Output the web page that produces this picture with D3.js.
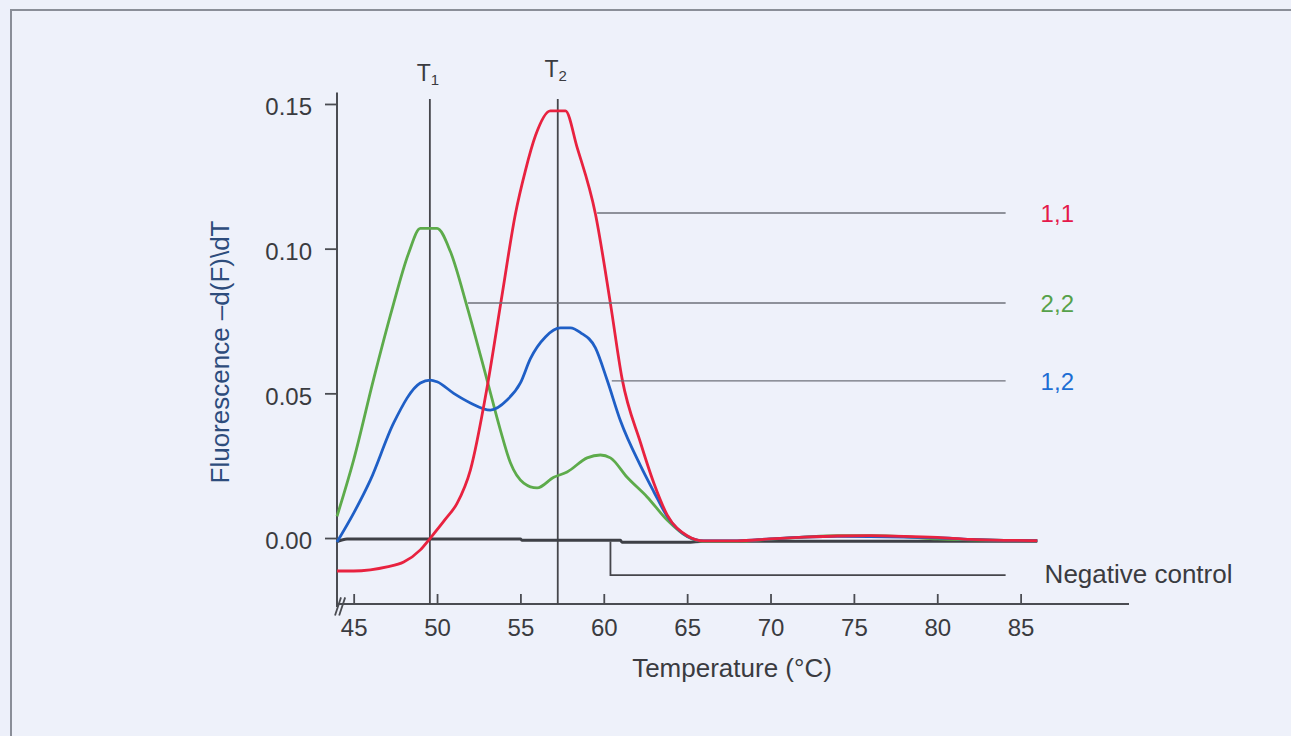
<!DOCTYPE html>
<html>
<head>
<meta charset="utf-8">
<script src="https://cdn.jsdelivr.net/npm/d3@7"></script>
<style>
  body { margin: 0; background: #edf0fa; }
  svg { display: block; font-family: "Liberation Sans", Arial, sans-serif; }
</style>
</head>
<body>
<div id="plot"></div>
<script>
// Melting curve data (temperature in °C, -d(F)/dT)
const redTemps = [44, 45, 46, 47, 48, 49, 49.6, 50.5, 51.2, 52, 53, 53.9, 54.7, 55.3, 55.9, 56.8, 57.7, 58.4, 59.5, 60.4, 61.1, 62.2, 63, 63.8, 65, 66, 68, 70, 72, 74, 76, 78, 80, 82, 84, 86];
const redValues = [-0.0114, -0.0114, -0.011, -0.010, -0.0083, -0.0041, 0, 0.0065, 0.012, 0.0235, 0.052, 0.084, 0.112, 0.127, 0.139, 0.1476, 0.1476, 0.135, 0.112, 0.081, 0.055, 0.033, 0.019, 0.008, 0.0008, -0.001, -0.001, -0.0003, 0.0003, 0.0007, 0.0008, 0.0006, 0.0002, -0.0005, -0.0008, -0.0009];

const greenTemps = [44, 45, 46.2, 47.3, 48.3, 49, 50, 50.8, 51.8, 53, 53.8, 54.4, 55.2, 56, 57, 57.8, 59, 59.8, 60.4, 61.4, 62.6, 63.8, 65, 66, 68, 70, 72, 74, 76, 78, 80, 82, 84, 86];
const greenValues = [0.0075, 0.027, 0.055, 0.079, 0.0985, 0.107, 0.107, 0.099, 0.080, 0.0546, 0.0373, 0.026, 0.019, 0.0173, 0.021, 0.0228, 0.0277, 0.0287, 0.0277, 0.021, 0.0142, 0.0062, 0.0005, -0.0012, -0.0012, -0.0004, 0.0003, 0.0008, 0.0008, 0.0005, -0.0003, -0.0006, -0.0008, -0.0009];

const blueTemps = [44, 45, 46, 47.4, 49, 49.6, 50, 51, 52, 53.2, 54.2, 55, 55.6, 56.5, 57.4, 58, 58.6, 59.5, 60.2, 61, 62.2, 63, 63.8, 65, 66, 68, 70, 72, 74, 76, 78, 80, 82, 84, 86];
const blueValues = [-0.0014, 0.0086, 0.020, 0.0398, 0.0536, 0.0546, 0.054, 0.050, 0.0467, 0.0442, 0.0477, 0.0536, 0.062, 0.0695, 0.0726, 0.0726, 0.071, 0.0657, 0.0546, 0.0405, 0.025, 0.016, 0.0075, 0.0006, -0.001, -0.001, -0.0003, 0.0003, 0.0006, 0.0005, 0.0003, 0.0001, -0.0005, -0.0008, -0.0009];

const negTemps = [44, 44.6, 55, 55.1, 61, 61.1, 65, 66, 86];
const negValues = [-0.0012, -0.0003, -0.0003, -0.0008, -0.0008, -0.0015, -0.0015, -0.0011, -0.0011];

const xTicks = [45, 50, 55, 60, 65, 70, 75, 80, 85];
const yTicks = [0, 0.05, 0.10, 0.15];

const meltTemps = [49.57, 57.24];
const meltNames = ["1", "2"];

const seriesNames = ["1,1", "2,2", "1,2"];
const seriesLevels = [0.1123, 0.0812, 0.0543];
const seriesStarts = [59.6, 51.85, 60.48];

// Chart setup
const width = 1291;
const height = 736;

const svg = d3.select("#plot")
  .append("svg")
  .attr("width", width)
  .attr("height", height);

// Frame around the figure
svg.append("rect")
  .attr("x", 11)
  .attr("y", 10)
  .attr("width", 1400)
  .attr("height", 900)
  .attr("fill", "#eef1fa")
  .attr("stroke", "#8a8e98")
  .attr("stroke-width", 2);

const x = d3.scaleLinear().domain([44, 91.5]).range([337, 1129]);
const y = d3.scaleLinear().domain([-0.0228, 0.154]).range([604, 92.4]);

const axisColor = "#4a4c52";
const textColor = "#3a3b40";

// Axes
const yAxis = d3.axisLeft(y)
  .tickValues(yTicks)
  .tickFormat(d3.format(".2f"))
  .tickSize(12)
  .tickPadding(13);

const gy = svg.append("g")
  .attr("transform", `translate(${x(44)},0)`)
  .call(yAxis);
gy.select(".domain").remove();
gy.selectAll(".tick line").attr("stroke", axisColor).attr("stroke-width", 1.8);
gy.selectAll(".tick text")
  .attr("dy", "0.45em")
  .style("font-size", "24px")
  .style("font-family", "Liberation Sans, Arial, sans-serif")
  .attr("fill", textColor);

const xAxis = d3.axisBottom(x)
  .tickValues(xTicks)
  .tickSize(-10)
  .tickPadding(15);

const gx = svg.append("g")
  .attr("transform", `translate(0,${y(-0.0228)})`)
  .call(xAxis);
gx.select(".domain").remove();
gx.selectAll(".tick line").attr("stroke", axisColor).attr("stroke-width", 1.8);
gx.selectAll(".tick text")
  .style("font-size", "24px")
  .style("font-family", "Liberation Sans, Arial, sans-serif")
  .attr("fill", textColor);

// Axis lines
svg.append("line")
  .attr("x1", x(44)).attr("x2", x(44))
  .attr("y1", y(0.154)).attr("y2", y(-0.0238))
  .attr("stroke", axisColor).attr("stroke-width", 2);
svg.append("line")
  .attr("x1", x(44)).attr("x2", x(91.5))
  .attr("y1", y(-0.0228)).attr("y2", y(-0.0228))
  .attr("stroke", axisColor).attr("stroke-width", 2);

// Axis break marks "//"
[44, 44.25].forEach(t => {
  svg.append("line")
    .attr("x1", x(t) - 2).attr("y1", y(-0.0268))
    .attr("x2", x(t) + 4).attr("y2", y(-0.0205))
    .attr("stroke", axisColor).attr("stroke-width", 1.8);
});

// Axis titles
svg.append("text")
  .attr("x", 732)
  .attr("y", 677)
  .attr("text-anchor", "middle")
  .style("font-size", "26px")
  .attr("fill", textColor)
  .text("Temperature (°C)");

svg.append("text")
  .attr("transform", "translate(229,352) rotate(-90)")
  .attr("text-anchor", "middle")
  .style("font-size", "26px")
  .attr("fill", "#2d4c7c")
  .text("Fluorescence –d(F)\\dT");

// Melting temperature lines T1, T2
meltTemps.forEach((t, i) => {
  svg.append("line")
    .attr("x1", x(t)).attr("x2", x(t))
    .attr("y1", y(0.1517)).attr("y2", y(-0.0228))
    .attr("stroke", "#45464b").attr("stroke-width", 1.8);
  const lbl = svg.append("text")
    .attr("x", x(t) - 2)
    .attr("y", i === 0 ? 81 : 77)
    .attr("text-anchor", "middle")
    .style("font-size", "23px")
    .attr("fill", textColor)
    .text("T");
  lbl.append("tspan")
    .attr("dy", 4)
    .style("font-size", "15px")
    .text(meltNames[i]);
});

// Curves
const line = d3.line()
  .x(d => x(d[0]))
  .y(d => y(d[1]))
  .curve(d3.curveMonotoneX);

const curves = [
  { temps: negTemps, values: negValues, color: "#3e4046", w: 3 },
  { temps: greenTemps, values: greenValues, color: "#5dab4b", w: 2.8 },
  { temps: blueTemps, values: blueValues, color: "#1f5fc6", w: 2.8 },
  { temps: redTemps, values: redValues, color: "#e8223f", w: 2.8 }
];

svg.selectAll("path.curve")
  .data(curves)
  .enter()
  .append("path")
  .attr("class", "curve")
  .attr("d", c => line(c.temps.map((t, i) => [t, c.values[i]])))
  .attr("fill", "none")
  .attr("stroke", c => c.color)
  .attr("stroke-width", c => c.w)
  .attr("stroke-linejoin", "round");

// Leader lines and series labels
const labelColors = ["#e5194b", "#56a14a", "#1c6ed4"];
const lineEnd = 84.1;

seriesNames.forEach((name, i) => {
  svg.append("line")
    .attr("x1", x(seriesStarts[i])).attr("x2", x(lineEnd))
    .attr("y1", y(seriesLevels[i])).attr("y2", y(seriesLevels[i]))
    .attr("stroke", "#6e717a").attr("stroke-width", 1.4);
  svg.append("text")
    .attr("x", x(lineEnd) + 35)
    .attr("y", y(seriesLevels[i]) + 9)
    .style("font-size", "24px")
    .attr("fill", labelColors[i])
    .text(name);
});

// Negative control bracket
svg.append("path")
  .attr("d", `M${x(60.4)},${y(-0.0012)} V${y(-0.0128)} H${x(lineEnd)}`)
  .attr("fill", "none")
  .attr("stroke", "#45464b")
  .attr("stroke-width", 1.8);

svg.append("text")
  .attr("x", x(lineEnd) + 39)
  .attr("y", y(-0.0128) + 8)
  .style("font-size", "26px")
  .attr("fill", textColor)
  .text("Negative control");
</script>
</body>
</html>
